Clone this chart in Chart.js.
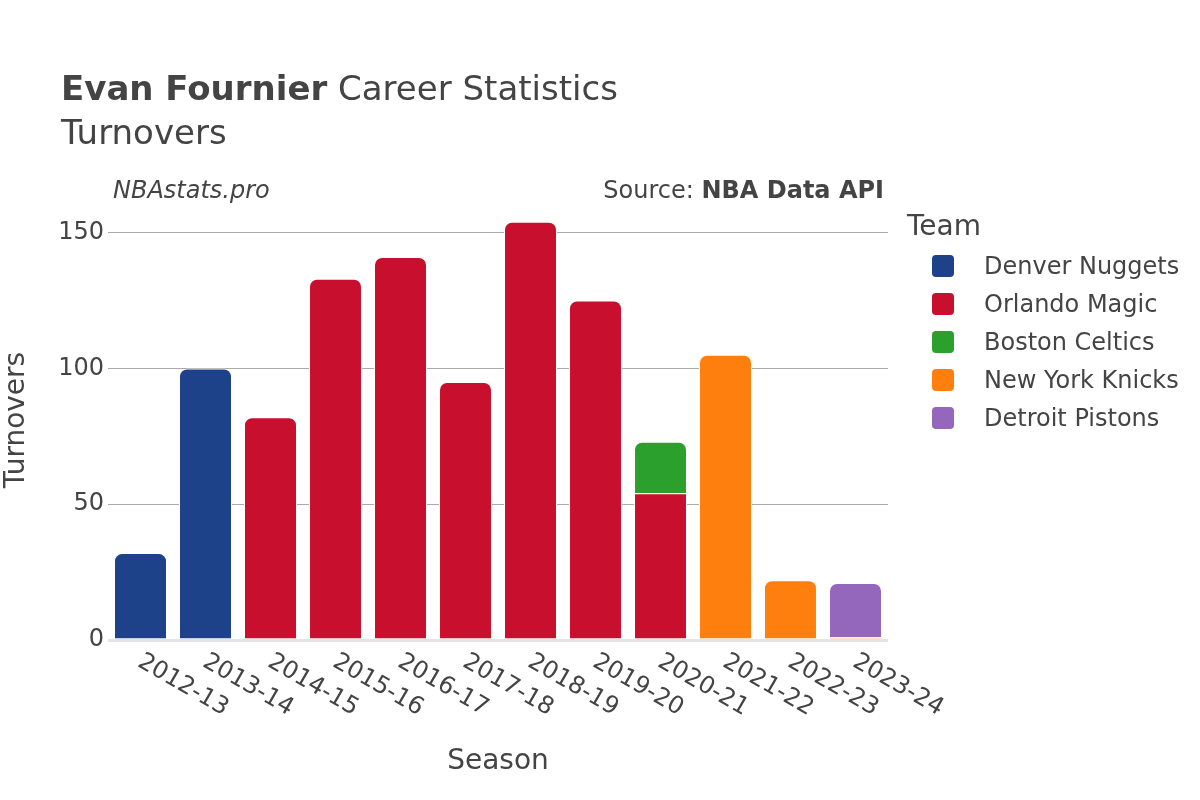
<!DOCTYPE html>
<html>
<head>
<meta charset="utf-8">
<script src="https://cdn.jsdelivr.net/npm/chart.js@4.4.1/dist/chart.umd.min.js"></script>
<style>
  html, body { margin: 0; padding: 0; background: #fff; }
  #wrap { width: 1200px; height: 800px; position: relative; }
</style>
</head>
<body>
<div id="wrap"><canvas id="c" width="1200" height="800"></canvas></div>
<script>
const seasons = ['2012-13','2013-14','2014-15','2015-16','2016-17','2017-18','2018-19','2019-20','2020-21','2021-22','2022-23','2023-24'];
const denverNuggets = [32, 100, null, null, null, null, null, null, null, null, null, null];
const orlandoMagic  = [null, null, 82, 133, 141, 95, 154, 125, 54, null, null, null];
const bostonCeltics = [null, null, null, null, null, null, null, null, 19, null, null, null];
const newYorkKnicks = [null, null, null, null, null, null, null, null, null, 105, 22, 1];
const detroitPistons = [null, null, null, null, null, null, null, null, null, null, null, 20];
const yTicks = [0, 50, 100, 150];
const yMax = 162;

const teamNames = ['Denver Nuggets','Orlando Magic','Boston Celtics','New York Knicks','Detroit Pistons'];
const teamColors = ['#1d428a','#c8102e','#2ca02c','#ff7f0e','#9467bd'];
const teamData = [denverNuggets, orlandoMagic, bostonCeltics, newYorkKnicks, detroitPistons];

const FONT = "'DejaVu Sans', sans-serif";
const TXT = '#444';
Chart.defaults.font.family = FONT;
Chart.defaults.color = TXT;

const decor = {
  id: 'decor',
  afterDraw(chart) {
    const ctx = chart.ctx;
    ctx.save();
    ctx.fillStyle = TXT;
    ctx.textBaseline = 'alphabetic';
    // Title
    ctx.textAlign = 'left';
    ctx.font = "bold 34px " + FONT;
    ctx.fillText('Evan Fournier', 61, 100);
    const w = ctx.measureText('Evan Fournier').width;
    ctx.font = "34px " + FONT;
    ctx.fillText(' Career Statistics', 61 + w, 100);
    ctx.fillText('Turnovers', 61, 144);
    // Subtitle row
    ctx.textBaseline = 'middle';
    ctx.font = "italic 24px " + FONT;
    ctx.fillText('NBAstats.pro', 113, 192);
    ctx.textAlign = 'right';
    ctx.font = "bold 24px " + FONT;
    const bw = ctx.measureText('NBA Data API').width;
    ctx.fillText('NBA Data API', 884, 192);
    ctx.font = "24px " + FONT;
    ctx.fillText('Source: ', 884 - bw, 192);
    // X tick labels (rotated 30deg)
    const xs = chart.scales.x;
    ctx.font = "24px " + FONT;
    ctx.textAlign = 'left';
    ctx.textBaseline = 'middle';
    seasons.forEach((s, i) => {
      const px = xs.getPixelForValue(i);
      ctx.save();
      ctx.translate(px - 1, 660);
      ctx.rotate(Math.PI / 6);
      ctx.fillText(s, 0, 0);
      ctx.restore();
    });
    // Legend
    ctx.textAlign = 'left';
    ctx.font = "28px " + FONT;
    ctx.fillText('Team', 907, 228);
    ctx.font = "24px " + FONT;
    chart.data.datasets.forEach((ds, i) => {
      const cy = 266 + i * 38;
      ctx.fillStyle = ds.backgroundColor;
      ctx.beginPath();
      if (ctx.roundRect) ctx.roundRect(932, cy - 11, 22, 22, 4); else ctx.rect(932, cy - 11, 22, 22);
      ctx.fill();
      ctx.fillStyle = TXT;
      ctx.fillText(ds.label, 984, cy + 2);
    });
    ctx.restore();
  }
};

new Chart(document.getElementById('c'), {
  type: 'bar',
  data: {
    labels: seasons,
    datasets: teamNames.map((n, i) => ({
      label: n,
      data: teamData[i],
      backgroundColor: teamColors[i],
      borderColor: '#ffffff',
      borderWidth: 1,
      borderSkipped: 'start',
      borderRadius: 8,
      barPercentage: 0.815,
      categoryPercentage: 1.0
    }))
  },
  options: {
    responsive: false,
    animation: false,
    layout: { padding: { top: 200, right: 312, left: 0, bottom: 0 } },
    plugins: { legend: { display: false }, tooltip: { enabled: false }, title: { display: false } },
    scales: {
      x: {
        stacked: true,
        grid: { display: false },
        border: { display: false },
        ticks: { display: false },
        title: { display: true, text: 'Season', font: { size: 28 }, color: TXT, padding: { top: 0, bottom: 21 } },
        afterFit(scale) { scale.height = 160; }
      },
      y: {
        stacked: true,
        min: 0,
        max: yMax,
        border: { display: false },
        grid: {
          drawTicks: false,
          color: (c) => (c.tick && c.tick.value === 0) ? '#e4e4e4' : '#aaaaaa',
          lineWidth: (c) => (c.tick && c.tick.value === 0) ? 3 : 1
        },
        afterBuildTicks(scale) { scale.ticks = yTicks.map(v => ({ value: v })); },
        ticks: { font: { size: 24 }, color: TXT, padding: 4 },
        title: { display: true, text: 'Turnovers', font: { size: 28 }, color: TXT, padding: { top: 0, bottom: 0 } },
        afterFit(scale) { scale.width = 108; }
      }
    }
  },
  plugins: [decor]
});
</script>
</body>
</html>
